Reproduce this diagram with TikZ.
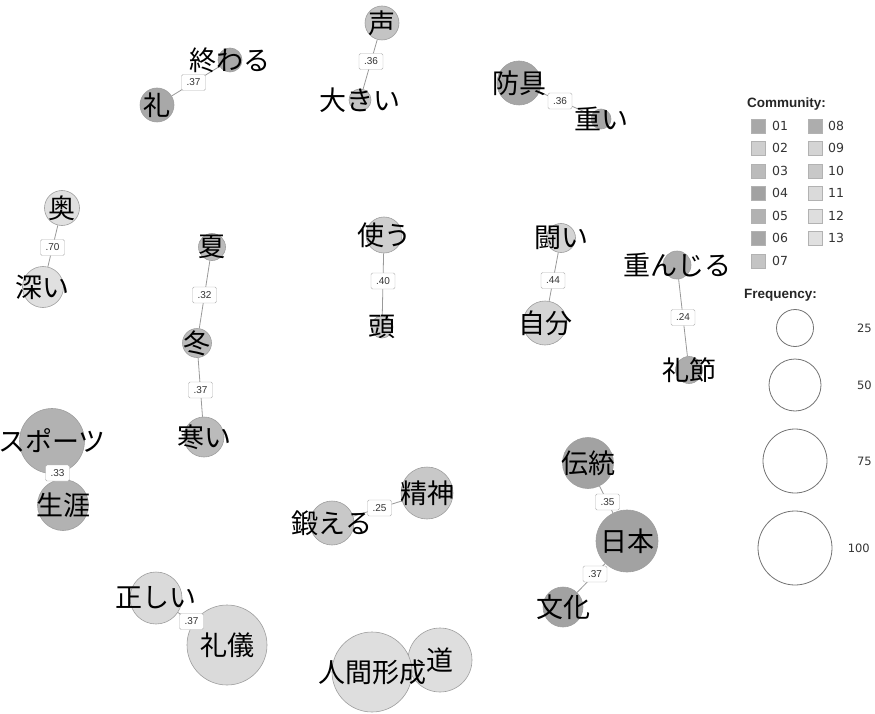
\documentclass[tikz,border=0pt]{standalone}
\usepackage{fontspec}
\setmainfont{Liberation Sans}
\newfontfamily\jpfont{Noto Sans CJK JP}
\newfontfamily\legfont{DejaVu Sans}
\usetikzlibrary{backgrounds}

% community shades
\definecolor{cm01}{HTML}{A8A8A8}
\definecolor{cm02}{HTML}{CFCFCF}
\definecolor{cm03}{HTML}{BBBBBB}
\definecolor{cm04}{HTML}{A2A2A2}
\definecolor{cm05}{HTML}{B2B2B2}
\definecolor{cm06}{HTML}{A6A6A6}
\definecolor{cm07}{HTML}{C4C4C4}
\definecolor{cm08}{HTML}{ADADAD}
\definecolor{cm09}{HTML}{D4D4D4}
\definecolor{cm10}{HTML}{C8C8C8}
\definecolor{cm11}{HTML}{DADADA}
\definecolor{cm12}{HTML}{DEDEDE}
\definecolor{cm13}{HTML}{E0E0E0}

\begin{document}
\begin{tikzpicture}[x=1pt, y=-1pt,
    wrd/.style={circle, draw=black!38, line width=0.6pt, inner sep=0pt, minimum size=#1},
    every label/.style={font=\jpfont\fontsize{27}{27}\selectfont, inner sep=0pt},
    elab/.style={draw=black!30, fill=white, rounded corners=1.5pt, inner sep=0pt,
      minimum width=24pt, minimum height=16pt, font=\fontsize{10}{10}\selectfont, text=black!80},
    lnk/.style={draw=black!40, line width=0.8pt},
    sq/.style={draw=black!30, line width=0.5pt, minimum size=14pt, inner sep=0pt},
    cnum/.style={anchor=west, inner sep=0pt, font=\legfont\fontsize{12.5}{12.5}\selectfont, text=black!80},
    fnum/.style={anchor=east, inner sep=0pt, font=\legfont\fontsize{11.5}{11.5}\selectfont, text=black!80},
    ttl/.style={anchor=west, inner sep=0pt, font=\bfseries\fontsize{13.5}{13.5}\selectfont, text=black!85},
    fq/.style={circle, draw=black!55, line width=0.8pt, inner sep=0pt, minimum size=#1}]
  \useasboundingbox (0,0) rectangle (875,714);

  % words
  \node[wrd=24, fill=cm01, label=center:終わる] (owaru) at (230,60) {};
  \node[wrd=34, fill=cm01, label=center:礼] (rei) at (157,105) {};
  \node[wrd=34, fill=cm07, label=center:声] (koe) at (382,23) {};
  \node[wrd=22, fill=cm07, label=center:大きい] (ookii) at (360,100) {};
  \node[wrd=44, fill=cm06, label=center:防具] (bougu) at (519,83) {};
  \node[wrd=20, fill=cm06, label=center:重い] (omoi) at (601,119) {};
  \node[wrd=35, fill=cm13, label=center:奥] (oku) at (62,208) {};
  \node[wrd=41, fill=cm13, label=center:深い] (fukai) at (43,287) {};
  \node[wrd=27, fill=cm03, label=center:夏] (natsu) at (212,247) {};
  \node[wrd=29, fill=cm03, label=center:冬] (fuyu) at (197,343) {};
  \node[wrd=40, fill=cm03, label=center:寒い] (samui) at (204,437) {};
  \node[wrd=65, fill=cm05, label=center:スポーツ] (sports) at (52,441) {};
  \node[wrd=51, fill=cm05, label=center:生涯] (shougai) at (63,505) {};
  \node[wrd=36, fill=cm02, label=center:使う] (tsukau) at (384,235) {};
  \node[wrd=22, fill=cm02, label=center:頭] (atama) at (382,327) {};
  \node[wrd=29, fill=cm09, label=center:闘い] (tatakai) at (561,238) {};
  \node[wrd=44, fill=cm09, label=center:自分] (jibun) at (545,323) {};
  \node[wrd=28, fill=cm08, label=center:重んじる] (omonjiru) at (677,265) {};
  \node[wrd=27, fill=cm08, label=center:礼節] (reisetsu) at (689,370) {};
  \node[wrd=44, fill=cm10, label=center:鍛える] (kitaeru) at (332,523) {};
  \node[wrd=52, fill=cm10, label=center:精神] (seishin) at (427,493) {};
  \node[wrd=51, fill=cm04, label=center:伝統] (dentou) at (588,463) {};
  \node[wrd=62, fill=cm04, label=center:日本] (nihon) at (627,541) {};
  \node[wrd=40, fill=cm04, label=center:文化] (bunka) at (563,607) {};
  \node[wrd=64, fill=cm12, label=center:道] (michi) at (440,660) {};
  \node[wrd=80, fill=cm12, label=center:人間形成] (ningen) at (372,672) {};
  \node[wrd=52, fill=cm11, label=center:正しい] (tadashii) at (156,598) {};
  \node[wrd=80, fill=cm11, label=center:礼儀] (reigi) at (227,645) {};

  % links
  \begin{scope}[on background layer]
    \draw[lnk] (rei) -- (owaru);
    \draw[lnk] (koe) -- (ookii);
    \draw[lnk] (bougu) -- (omoi);
    \draw[lnk] (oku) -- (fukai);
    \draw[lnk] (natsu) -- (fuyu);
    \draw[lnk] (fuyu) -- (samui);
    \draw[lnk] (sports) -- (shougai);
    \draw[lnk] (tsukau) -- (atama);
    \draw[lnk] (tatakai) -- (jibun);
    \draw[lnk] (omonjiru) -- (reisetsu);
    \draw[lnk] (kitaeru) -- (seishin);
    \draw[lnk] (dentou) -- (nihon);
    \draw[lnk] (nihon) -- (bunka);
    \draw[lnk] (tadashii) -- (reigi);
    \draw[lnk] (ningen.center) -- node[elab] {} (michi.center);
  \end{scope}

  % coefficients
  \path (rei.center) -- node[elab] {.37} (owaru.center);
  \path (koe.center) -- node[elab] {.36} (ookii.center);
  \path (bougu.center) -- node[elab] {.36} (omoi.center);
  \path (oku.center) -- node[elab] {.70} (fukai.center);
  \path (natsu.center) -- node[elab] {.32} (fuyu.center);
  \path (fuyu.center) -- node[elab] {.37} (samui.center);
  \path (sports.center) -- node[elab] {.33} (shougai.center);
  \path (tsukau.center) -- node[elab] {.40} (atama.center);
  \path (tatakai.center) -- node[elab] {.44} (jibun.center);
  \path (omonjiru.center) -- node[elab] {.24} (reisetsu.center);
  \path (kitaeru.center) -- node[elab] {.25} (seishin.center);
  \path (dentou.center) -- node[elab] {.35} (nihon.center);
  \path (nihon.center) -- node[elab] {.37} (bunka.center);
  \path (tadashii.center) -- node[elab] {.37} (reigi.center);

  % legend: community
  \node[ttl] (commtitle) at (747,104) {Community:};
  \node[sq, fill=cm01] (sq01) at (758,126) {};
  \node[sq, fill=cm02] (sq02) at (758,148) {};
  \node[sq, fill=cm03] (sq03) at (758,171) {};
  \node[sq, fill=cm04] (sq04) at (758,193) {};
  \node[sq, fill=cm05] (sq05) at (758,216) {};
  \node[sq, fill=cm06] (sq06) at (758,238) {};
  \node[sq, fill=cm07] (sq07) at (758,261) {};
  \node[sq, fill=cm08] (sq08) at (815,126) {};
  \node[sq, fill=cm09] (sq09) at (815,148) {};
  \node[sq, fill=cm10] (sq10) at (815,171) {};
  \node[sq, fill=cm11] (sq11) at (815,193) {};
  \node[sq, fill=cm12] (sq12) at (815,216) {};
  \node[sq, fill=cm13] (sq13) at (815,238) {};
  \node[cnum] (n01) at (772,126) {01};
  \node[cnum] (n02) at (772,148) {02};
  \node[cnum] (n03) at (772,171) {03};
  \node[cnum] (n04) at (772,193) {04};
  \node[cnum] (n05) at (772,216) {05};
  \node[cnum] (n06) at (772,238) {06};
  \node[cnum] (n07) at (772,261) {07};
  \node[cnum] (n08) at (828,126) {08};
  \node[cnum] (n09) at (828,148) {09};
  \node[cnum] (n10) at (828,171) {10};
  \node[cnum] (n11) at (828,193) {11};
  \node[cnum] (n12) at (828,216) {12};
  \node[cnum] (n13) at (828,238) {13};

  % legend: frequency
  \node[ttl] (freqtitle) at (744,295) {Frequency:};
  \node[fq=37] (f25) at (795,328) {};
  \node[fq=52] (f50) at (795,385) {};
  \node[fq=64] (f75) at (795,461) {};
  \node[fq=74] (f100) at (795,548) {};
  \node[fnum] (l25) at (872,328) {25};
  \node[fnum] (l50) at (872,385) {50};
  \node[fnum] (l75) at (872,461) {75};
  \node[fnum] (l100) at (870,548) {100};
\end{tikzpicture}
\end{document}
